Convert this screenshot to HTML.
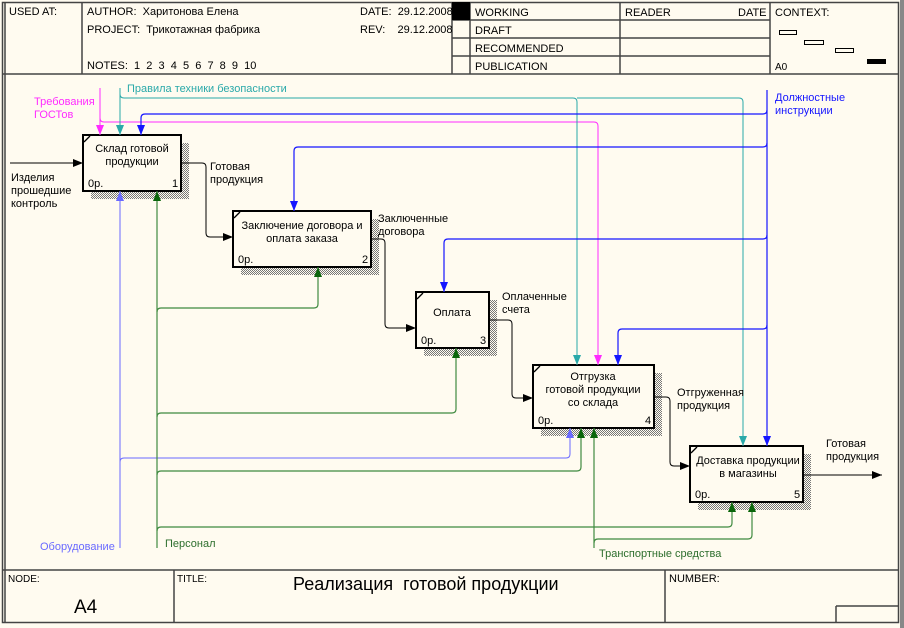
<!DOCTYPE html>
<html><head><meta charset="utf-8">
<style>
html,body{margin:0;padding:0;background:#fffbf0;}
svg{display:block;}
text{font-family:"Liberation Sans","DejaVu Sans",sans-serif;white-space:pre;}
</style></head>
<body>
<svg width="904" height="628" viewBox="0 0 904 628" xmlns="http://www.w3.org/2000/svg" xml:space="preserve">
<defs>
<pattern id="h" width="2" height="2" patternUnits="userSpaceOnUse">
<rect width="2" height="2" fill="#fffbf0"/><rect width="1" height="1" fill="#777"/><rect x="1" y="1" width="1" height="1" fill="#777"/>
</pattern>
<marker id="ak" markerWidth="10" markerHeight="8" refX="10" refY="4" orient="auto" markerUnits="userSpaceOnUse"><path d="M0,0 L10,4 L0,8 z" fill="#000"/></marker>
<marker id="am" markerWidth="10" markerHeight="8" refX="10" refY="4" orient="auto" markerUnits="userSpaceOnUse"><path d="M0,0 L10,4 L0,8 z" fill="#ff2bff"/></marker>
<marker id="at" markerWidth="10" markerHeight="8" refX="10" refY="4" orient="auto" markerUnits="userSpaceOnUse"><path d="M0,0 L10,4 L0,8 z" fill="#2aa9a9"/></marker>
<marker id="ab" markerWidth="10" markerHeight="8" refX="10" refY="4" orient="auto" markerUnits="userSpaceOnUse"><path d="M0,0 L10,4 L0,8 z" fill="#1515ff"/></marker>
<marker id="al" markerWidth="10" markerHeight="8" refX="10" refY="4" orient="auto" markerUnits="userSpaceOnUse"><path d="M0,0 L10,4 L0,8 z" fill="#6a6aff"/></marker>
<marker id="ag" markerWidth="10" markerHeight="8" refX="10" refY="4" orient="auto" markerUnits="userSpaceOnUse"><path d="M0,0 L10,4 L0,8 z" fill="#0a650a"/></marker>
</defs>
<rect width="904" height="628" fill="#fffbf0"/>
<g stroke="#444" fill="none" stroke-width="1.5">
<rect x="2.5" y="2.5" width="896" height="620"/>
<line x1="5" y1="2" x2="5" y2="623"/>
<line x1="2" y1="74" x2="899" y2="74"/>
<line x1="2" y1="570" x2="899" y2="570"/>
<line x1="82" y1="2" x2="82" y2="74"/>
<line x1="470" y1="2" x2="470" y2="74"/>
<line x1="620" y1="2" x2="620" y2="74"/>
<line x1="770" y1="2" x2="770" y2="74"/>
<line x1="452" y1="2" x2="452" y2="74"/>
<line x1="452" y1="20" x2="770" y2="20"/>
<line x1="452" y1="38" x2="770" y2="38"/>
<line x1="452" y1="56" x2="770" y2="56"/>
<line x1="174" y1="570" x2="174" y2="623"/>
<line x1="665" y1="570" x2="665" y2="623"/>
<line x1="836" y1="606" x2="899" y2="606"/>
<line x1="836" y1="606" x2="836" y2="623"/>
</g>
<rect x="900" y="0" width="4" height="628" fill="#888"/>
<rect x="452" y="2" width="18" height="18" fill="#000"/>
<g font-size="11" fill="#000">
<text x="9" y="15">USED AT:</text>
<text x="87" y="15">AUTHOR:  Харитонова Елена</text>
<text x="87" y="33">PROJECT:  Трикотажная фабрика</text>
<text x="87" y="69">NOTES:  1  2  3  4  5  6  7  8  9  10</text>
<text x="360" y="15">DATE:  29.12.2008</text>
<text x="360" y="33">REV:    29.12.2008</text>
<text x="475" y="16">WORKING</text>
<text x="475" y="34">DRAFT</text>
<text x="475" y="52">RECOMMENDED</text>
<text x="475" y="70">PUBLICATION</text>
<text x="625" y="16">READER</text>
<text x="738" y="16">DATE</text>
<text x="775" y="16">CONTEXT:</text>
<text x="775" y="70" font-size="10">A0</text>
</g>
<g stroke="#000" fill="none" stroke-width="1">
<rect x="779.5" y="30.5" width="17" height="4"/>
<rect x="804.5" y="40.5" width="19" height="4"/>
<rect x="835.5" y="48.5" width="18" height="4"/>
</g>
<rect x="867" y="59" width="19" height="5" fill="#000"/>
<g font-size="10" fill="#000">
<text x="8" y="582">NODE:</text>
<text x="177" y="582">TITLE:</text>
<text x="669" y="582" font-size="11">NUMBER:</text>
</g>
<text x="74" y="613" font-size="19">A4</text>
<text x="293" y="590" font-size="18">Реализация  готовой продукции</text>

<g fill="url(#h)">
<rect x="91" y="143" width="98" height="56"/>
<rect x="241" y="219" width="138" height="56"/>
<rect x="424" y="300" width="73" height="56"/>
<rect x="541" y="373" width="121" height="63"/>
<rect x="698" y="454" width="113" height="56"/>
</g>
<g stroke="#000" stroke-width="2" fill="#fffbf0">
<rect x="83" y="135" width="98" height="56"/>
<rect x="233" y="211" width="138" height="56"/>
<rect x="416" y="292" width="73" height="56"/>
<rect x="533" y="365" width="121" height="63"/>
<rect x="690" y="446" width="113" height="56"/>
</g>
<g stroke="#000" stroke-width="1.3">
<line x1="84" y1="142" x2="90" y2="136"/>
<line x1="234" y1="218" x2="240" y2="212"/>
<line x1="417" y1="299" x2="423" y2="293"/>
<line x1="534" y1="372" x2="540" y2="366"/>
<line x1="691" y1="453" x2="697" y2="447"/>
</g>
<g font-size="11" fill="#000" text-anchor="middle">
<text x="132" y="152">Склад готовой</text>
<text x="132" y="165">продукции</text>
<text x="302" y="229">Заключение договора и</text>
<text x="302" y="242">оплата заказа</text>
<text x="452" y="316">Оплата</text>
<text x="593" y="380">Отгрузка</text>
<text x="593" y="393">готовой продукции</text>
<text x="593" y="406">со склада</text>
<text x="748" y="464">Доставка продукции</text>
<text x="748" y="477">в магазины</text>
</g>
<g font-size="11" fill="#000">
<text x="88" y="187">0р.</text><text x="172" y="187">1</text>
<text x="238" y="263">0р.</text><text x="362" y="263">2</text>
<text x="421" y="344">0р.</text><text x="480" y="344">3</text>
<text x="538" y="424">0р.</text><text x="645" y="424">4</text>
<text x="695" y="498">0р.</text><text x="794" y="498">5</text>
</g>

<g stroke="#000" stroke-width="1" fill="none">
<path d="M10,163 H83" marker-end="url(#ak)"/>
<path d="M181,163 H202 Q206,163 206,167 V233 Q206,237 210,237 H233" marker-end="url(#ak)"/>
<path d="M371,239 H381 Q385,239 385,243 V324 Q385,328 389,328 H416" marker-end="url(#ak)"/>
<path d="M489,320 H508 Q512,320 512,324 V394 Q512,398 516,398 H533" marker-end="url(#ak)"/>
<path d="M654,397 H666 Q670,397 670,401 V462 Q670,466 674,466 H690" marker-end="url(#ak)"/>
<path d="M803,475 H882" marker-end="url(#ak)"/>
</g>
<g stroke="#ff2bff" stroke-width="1" fill="none">
<path d="M100,88 V135" marker-end="url(#am)"/>
<path d="M100,118 Q100,122 104,122 H594 Q598,122 598,126 V365" marker-end="url(#am)"/>
</g>
<g stroke="#2aa9a9" stroke-width="1" fill="none">
<path d="M120,88 V135" marker-end="url(#at)"/>
<path d="M120,94 Q120,98 124,98 H573 Q577,98 577,102 V365" marker-end="url(#at)"/>
<path d="M577,98 H739 Q743,98 743,102 V446" marker-end="url(#at)"/>
</g>
<g stroke="#1515ff" stroke-width="1.2" fill="none">
<path d="M767,90 V446" marker-end="url(#ab)"/>
<path d="M767,110 Q767,114 763,114 H145 Q141,114 141,118 V135" marker-end="url(#ab)"/>
<path d="M767,143 Q767,147 763,147 H298 Q294,147 294,151 V211" marker-end="url(#ab)"/>
<path d="M767,235 Q767,239 763,239 H448 Q444,239 444,243 V292" marker-end="url(#ab)"/>
<path d="M767,325 Q767,329 763,329 H622 Q618,329 618,333 V365" marker-end="url(#ab)"/>
</g>
<g stroke="#6a6aff" stroke-width="1" fill="none">
<path d="M120,548 V191" marker-end="url(#al)"/>
<path d="M120,462 Q120,458 124,458 H566 Q570,458 570,454 V428" marker-end="url(#al)"/>
</g>
<g stroke="#3f8a3f" stroke-width="1.2" fill="none">
<path d="M157,548 V191" marker-end="url(#ag)"/>
<path d="M157,312 Q157,308 161,308 H314 Q318,308 318,304 V267" marker-end="url(#ag)"/>
<path d="M157,417 Q157,413 161,413 H452 Q456,413 456,409 V348" marker-end="url(#ag)"/>
<path d="M157,475 Q157,471 161,471 H577 Q581,471 581,467 V428" marker-end="url(#ag)"/>
<path d="M157,531 Q157,527 161,527 H728 Q732,527 732,523 V502" marker-end="url(#ag)"/>
<path d="M594,548 V428" marker-end="url(#ag)"/>
<path d="M594,543 Q594,539 598,539 H748 Q752,539 752,535 V502" marker-end="url(#ag)"/>
</g>
<g font-size="11">
<text x="11" y="181" fill="#000">Изделия</text>
<text x="11" y="194" fill="#000">прошедшие</text>
<text x="11" y="207" fill="#000">контроль</text>
<text x="210" y="170" fill="#000">Готовая</text>
<text x="210" y="183" fill="#000">продукция</text>
<text x="378" y="222" fill="#000">Заключенные</text>
<text x="378" y="235" fill="#000">договора</text>
<text x="502" y="300" fill="#000">Оплаченные</text>
<text x="502" y="313" fill="#000">счета</text>
<text x="677" y="396" fill="#000">Отгруженная</text>
<text x="677" y="409" fill="#000">продукция</text>
<text x="826" y="447" fill="#000">Готовая</text>
<text x="826" y="460" fill="#000">продукция</text>
<text x="34" y="105" fill="#ff2bff">Требования</text>
<text x="34" y="118" fill="#ff2bff">ГОСТов</text>
<text x="127" y="92" fill="#2aa9a9">Правила техники безопасности</text>
<text x="775" y="101" fill="#1515ff">Должностные</text>
<text x="775" y="114" fill="#1515ff">инструкции</text>
<text x="40" y="550" fill="#6a6aff">Оборудование</text>
<text x="165" y="547" fill="#2d6e2d">Персонал</text>
<text x="599" y="557" fill="#2d6e2d">Транспортные средства</text>
</g>
</svg>
</body></html>
